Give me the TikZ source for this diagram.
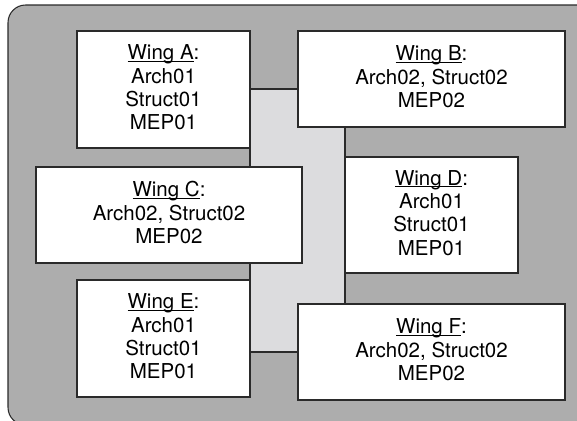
\documentclass[tikz,border=0pt]{standalone}
\usepackage{fontspec}
\setmainfont{TeX Gyre Heros}
\usepackage{xcolor}
\usetikzlibrary{positioning}

\definecolor{sitegray}{HTML}{ADADAD}
\definecolor{coregray}{HTML}{DCDCDE}
\definecolor{edgegray}{HTML}{2A2A2A}

\newcommand{\wingname}[1]{\underline{\smash{#1}}:}

\tikzset{
  wingbox/.style={draw=edgegray, line width=0.9pt, fill=white, align=center,
    inner sep=0pt, font=\fontsize{17.5}{20}\selectfont},
}

\begin{document}
\begin{tikzpicture}[x=0.03cm, y=-0.03cm]
            \useasboundingbox (0,0) rectangle (577,421);
            \clip (0,0) rectangle (577,421);
            \draw[draw=edgegray, line width=0.9pt, fill=sitegray, rounded corners=15] (8,5) rectangle (600,425);
            \node[draw=edgegray, line width=0.9pt, fill=coregray, minimum width=2.85cm, minimum height=7.89cm] (core) at (297.5, 220.5) {};

            \node[wingbox, minimum width=5.19cm, minimum height=3.51cm] (A) at (163.5, 89.5) {\wingname{Wing A}\\Arch01\\Struct01\\MEP01};
            \node[wingbox, minimum width=8.01cm, minimum height=2.88cm] (B) at (431.5, 79) {\wingname{Wing B}\\Arch02, Struct02\\MEP02};
            \node[wingbox, minimum width=7.98cm, minimum height=2.88cm] (C) at (169, 215) {\wingname{Wing C}\\Arch02, Struct02\\MEP02};
            \node[wingbox, minimum width=5.19cm, minimum height=3.48cm] (D) at (431.5, 215) {\wingname{Wing D}\\Arch01\\Struct01\\MEP01};
            \node[wingbox, minimum width=5.19cm, minimum height=3.51cm] (E) at (163.5, 338.5) {\wingname{Wing E}\\Arch01\\Struct01\\MEP01};
            \node[wingbox, minimum width=8.01cm, minimum height=2.88cm] (F) at (431.5, 352) {\wingname{Wing F}\\Arch02, Struct02\\MEP02};
        \end{tikzpicture}
\end{document}
